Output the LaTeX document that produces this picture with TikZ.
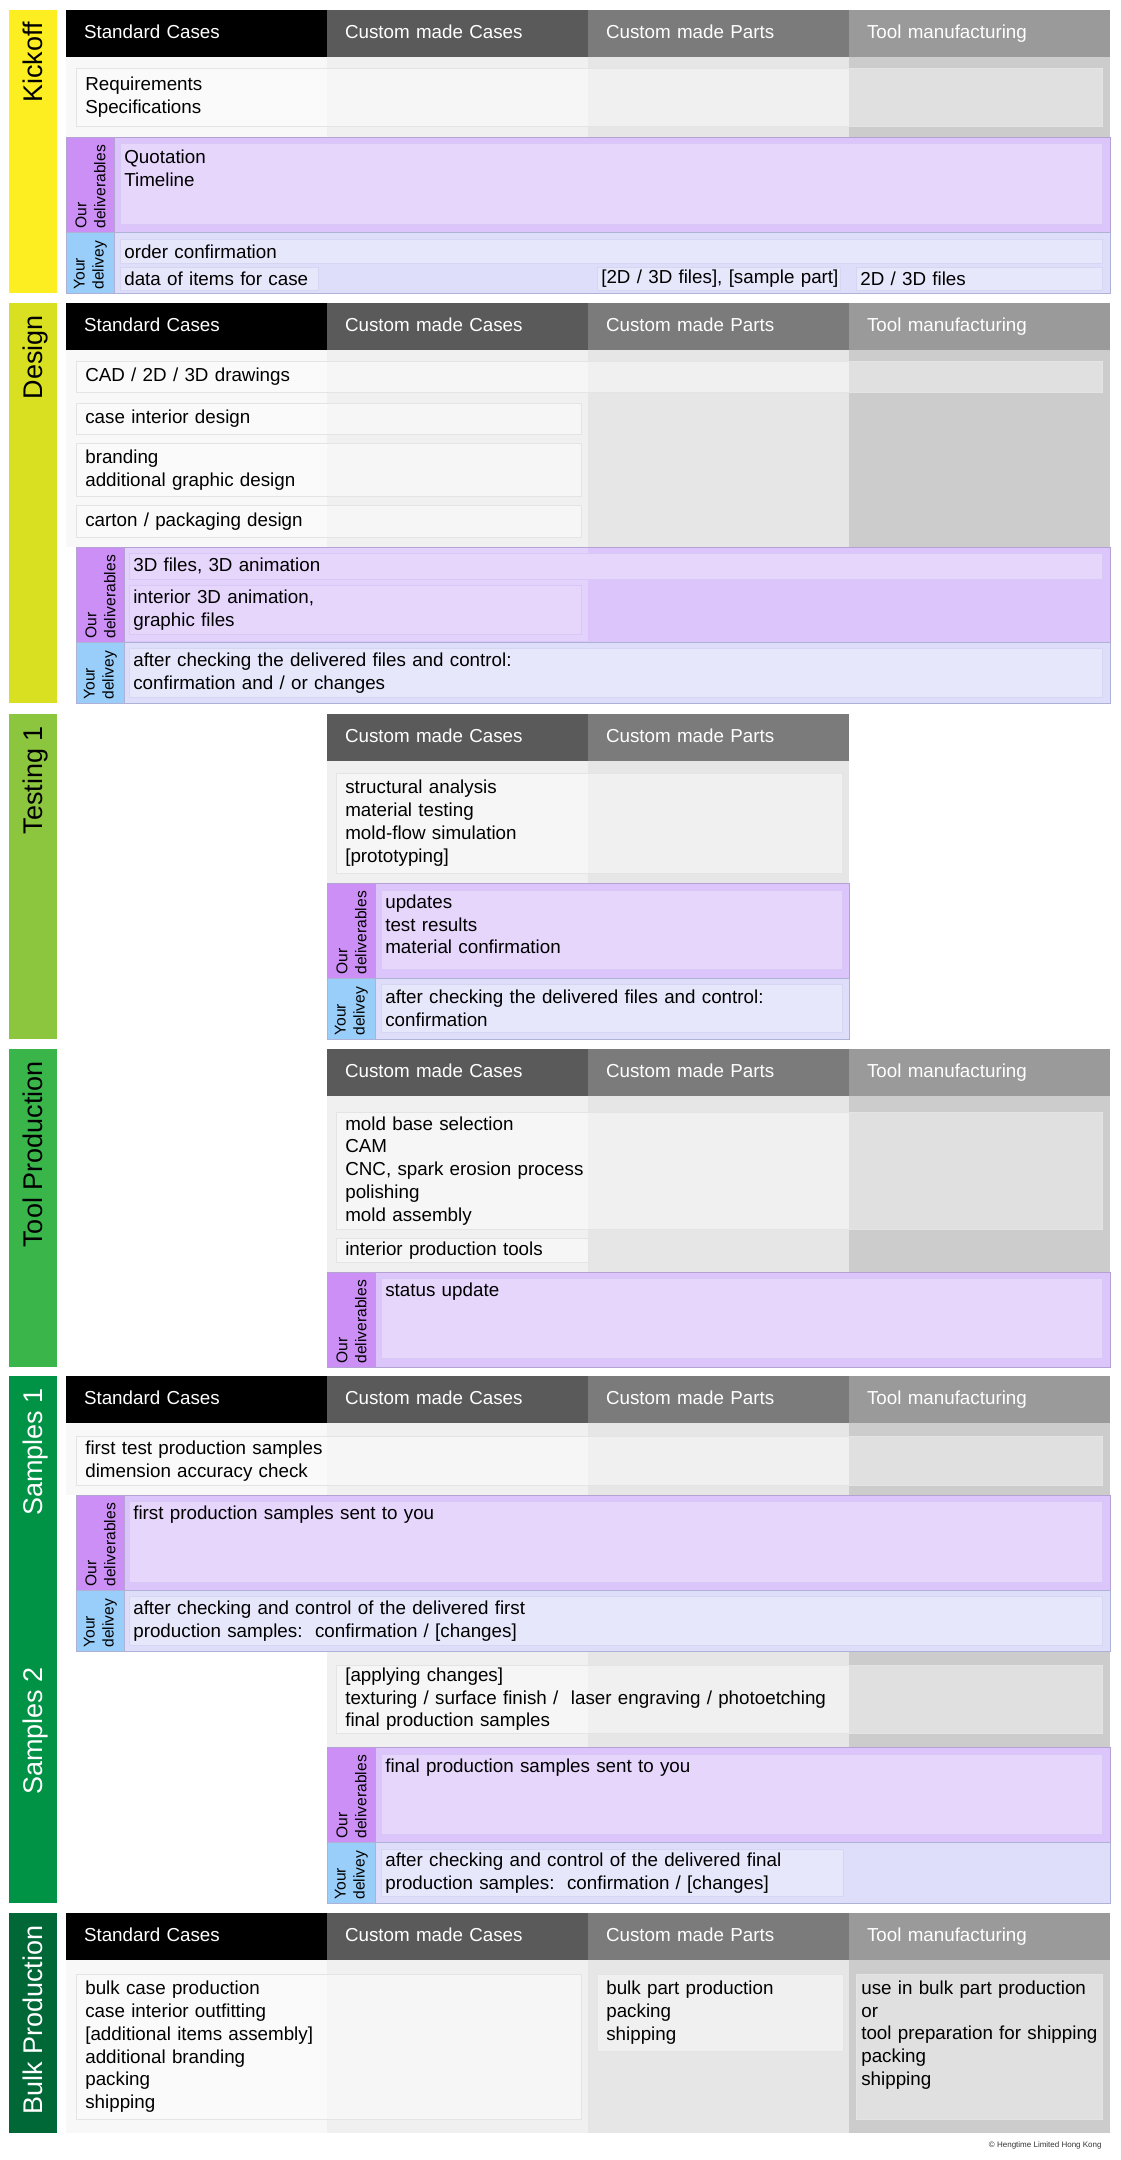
\documentclass[tikz,border=0pt]{standalone}
\usepackage{fontspec}
\setmainfont{Liberation Sans}
\frenchspacing
\definecolor{kick}{HTML}{FCEE21}
\definecolor{desi}{HTML}{D9E021}
\definecolor{test}{HTML}{8CC63F}
\definecolor{tool}{HTML}{39B54A}
\definecolor{samp}{HTML}{009245}
\definecolor{bulk}{HTML}{006837}
\definecolor{hd0}{HTML}{000000}
\definecolor{hd1}{HTML}{5A5A5A}
\definecolor{hd2}{HTML}{7B7B7B}
\definecolor{hd3}{HTML}{9A9A9A}
\definecolor{bg0}{HTML}{F8F8F8}
\definecolor{bg1}{HTML}{F0F0F0}
\definecolor{bg2}{HTML}{E6E6E6}
\definecolor{bg3}{HTML}{CCCCCC}
\definecolor{boxline}{HTML}{E4E4E4}
\definecolor{odcell}{HTML}{CC8FF5}
\definecolor{odfill}{HTML}{DCC5FA}
\definecolor{odlite}{HTML}{E3D2FB}
\definecolor{odbox}{HTML}{E6D6FC}
\definecolor{odline}{HTML}{B4A2D2}
\definecolor{odboxline}{HTML}{D8C8F5}
\definecolor{ydcell}{HTML}{99CEFA}
\definecolor{ydfill}{HTML}{DEDEFA}
\definecolor{ydbox}{HTML}{E7E7FC}
\definecolor{ydline}{HTML}{AEB2D6}
\definecolor{ydboxline}{HTML}{D6D6F2}
\newcommand\bodyfont{\fontsize{18.8}{22.8}\selectfont}
\newcommand\labfont{\fontsize{15.6}{19}\selectfont}
\newcommand\phasefont{\fontsize{27}{30}\selectfont}

\begin{document}
\begin{tikzpicture}[x=1pt, y=-1pt, font=\bodyfont, line width=0.8pt,
  bar/.style={anchor=north west, minimum width=48pt, inner sep=0pt, outer sep=0pt},
  phase/.style={rotate=90, anchor=east, inner sep=0pt, text height=19.5pt, text depth=0pt, font=\phasefont},
  hd/.style={anchor=north west, minimum height=47pt, text width=225pt, inner xsep=18pt, inner ysep=0pt,
    text height=14pt, text depth=4pt, align=left, text=white, outer sep=0pt},
  cell/.style 2 args={anchor=north west, text width=#1pt, minimum height=#2pt, inner xsep=9pt,
    inner ysep=0pt, align=left, draw=boxline, line width=0.6pt, fill=white, fill opacity=.4, text opacity=1},
  ourcell/.style 2 args={cell={#1}{#2}, inner xsep=4pt, fill=odbox, fill opacity=1, draw=odboxline},
  yourcell/.style 2 args={cell={#1}{#2}, inner xsep=4pt, fill=ydbox, fill opacity=1, draw=ydboxline},
  topped/.style 2 args={text height=#1pt, text depth=#2pt},
  odband/.style={anchor=north west, minimum height=95pt, inner sep=0pt, fill=odfill, draw=odline},
  ydband/.style={anchor=north west, minimum height=61pt, inner sep=0pt, fill=ydfill, draw=ydline},
  odlab/.style={rotate=90, anchor=north east, minimum width=95pt, minimum height=48pt, text width=87pt,
    inner sep=4pt, align=left, fill=odcell, draw=odline, font=\labfont},
  ydlab/.style={rotate=90, anchor=north east, minimum width=61pt, minimum height=48pt, text width=53pt,
    inner sep=4pt, align=left, fill=ydcell, draw=ydline, font=\labfont}]
\path[use as bounding box, fill=white] (0,0) rectangle (1121,2160);

% column heads and column shading
\foreach \s/\y/\b in {k/10/137, d/303/547, s/1376/1495, b/1913/2133}
  \foreach \i/\t in {0/Standard Cases, 1/Custom made Cases, 2/Custom made Parts, 3/Tool manufacturing} {
    \fill[bg\i] (66+261*\i,\y+47) rectangle ++(261,\b-\y-47);
    \node[hd, fill=hd\i] (\s-h\i) at (66+261*\i,\y) {\t};
  }
\foreach \i/\t in {1/Custom made Cases, 2/Custom made Parts} {
  \fill[bg\i] (66+261*\i,761) rectangle ++(261,122);
  \node[hd, fill=hd\i] (t-h\i) at (66+261*\i,714) {\t};
}
\foreach \i/\t in {1/Custom made Cases, 2/Custom made Parts, 3/Tool manufacturing} {
  \fill[bg\i] (66+261*\i,1096) rectangle ++(261,176);
  \node[hd, fill=hd\i] (p-h\i) at (66+261*\i,1049) {\t};
}
\foreach \i in {1,2,3} \fill[bg\i] (66+261*\i,1651) rectangle ++(261,96);

% Kickoff
\node[bar, fill=kick, minimum height=283pt] (k-bar) at (9,10) {};
\node[phase] (k-lab) at ([yshift=-12pt]k-bar.north) {Kickoff};
\node[cell={1008}{58}] (k-req) at (76,68) {Requirements\\Specifications};
\node[odband, minimum width=1044pt] (k-od) at (66,137) {};
\node[odlab] (k-odl) at (k-od.north west) {Our\\deliverables};
\node[ourcell={974}{81}, topped={20}{61}] (k-quote) at (120,143) {Quotation\\Timeline};
\node[ydband, minimum width=1044pt] (k-yd) at (66,232) {};
\node[ydlab] (k-ydl) at (k-yd.north west) {Your\\delivey};
\node[yourcell={974}{24}] (k-order) at (120,239) {order confirmation};
\node[yourcell={190}{23}] (k-data) at (120,267) {data of items for case};
\node[yourcell={235}{23}] (k-files) at (597,267) {\mbox{[2D / 3D files], [sample part]}};
\node[yourcell={238}{23}] (k-2d) at (856,267) {2D / 3D files};

% Design
\node[bar, fill=desi, minimum height=400pt] (d-bar) at (9,303) {};
\node[phase] (d-lab) at ([yshift=-12pt]d-bar.north) {Design};
\node[cell={1008}{31}] (d-cad) at (76,361) {CAD / 2D / 3D drawings};
\node[cell={487}{31}] (d-int) at (76,403) {case interior design};
\node[cell={487}{53}] (d-brand) at (76,443) {branding\\additional graphic design};
\node[cell={487}{32}] (d-carton) at (76,505) {carton / packaging design};
\node[odband, minimum width=1034pt] (d-od) at (76,547) {};
\fill[odlite] (124.5,548) rectangle (588,641);
\node[odlab] (d-odl) at (d-od.north west) {Our\\deliverables};
\node[ourcell={965}{26}] (d-anim) at (129,553) {3D files, 3D animation};
\node[ourcell={444}{49}] (d-ianim) at (129,585) {interior 3D animation,\\graphic files};
\node[ydband, minimum width=1034pt] (d-yd) at (76,642) {};
\node[ydlab] (d-ydl) at (d-yd.north west) {Your\\delivey};
\node[yourcell={965}{49}] (d-check) at (129,648) {after checking the delivered files and control:\\confirmation and / or changes};

% Testing 1
\node[bar, fill=test, minimum height=325pt] (t-bar) at (9,714) {};
\node[phase] (t-lab) at ([yshift=-12pt]t-bar.north) {Testing 1};
\node[cell={488}{100}] (t-analysis) at (336,773) {structural analysis\\material testing\\mold-flow simulation\\{}[prototyping]};
\node[odband, minimum width=522pt] (t-od) at (327,883) {};
\node[odlab] (t-odl) at (t-od.north west) {Our\\deliverables};
\node[ourcell={453}{79}, topped={18}{61}] (t-updates) at (381,890) {updates\\test results\\material confirmation};
\node[ydband, minimum width=522pt] (t-yd) at (327,978) {};
\node[ydlab] (t-ydl) at (t-yd.north west) {Your\\delivey};
\node[yourcell={453}{48}] (t-check) at (381,984) {after checking the delivered files and control:\\confirmation};

% Tool Production
\node[bar, fill=tool, minimum height=318pt] (p-bar) at (9,1049) {};
\node[phase] (p-lab) at ([yshift=-12pt]p-bar.north) {Tool Production};
\node[cell={748}{117}] (p-mold) at (336,1112) {mold base selection\\CAM\\CNC, spark erosion process\\polishing\\mold assembly};
\node[cell={234}{24}] (p-int) at (336,1238) {interior production tools};
\node[odband, minimum width=783pt] (p-od) at (327,1272) {};
\node[odlab] (p-odl) at (p-od.north west) {Our\\deliverables};
\node[ourcell={713}{80}, topped={18}{62}] (p-status) at (381,1278) {status update};

% Samples 1 and 2
\node[bar, fill=samp, minimum height=527pt] (s-bar) at (9,1376) {};
\node[phase, text=white] (s-lab1) at ([yshift=-12pt]s-bar.north) {Samples 1};
\node[phase, text=white] (s-lab2) at ([yshift=-291pt]s-bar.north) {Samples 2};
\node[cell={1008}{49}] (s-first) at (76,1436) {first test production samples\\dimension accuracy check};
\node[odband, minimum width=1034pt] (s-od1) at (76,1495) {};
\node[odlab] (s-odl1) at (s-od1.north west) {Our\\deliverables};
\node[ourcell={965}{81}, topped={18}{63}] (s-sent1) at (129,1501) {first production samples sent to you};
\node[ydband, minimum width=1034pt] (s-yd1) at (76,1590) {};
\node[ydlab] (s-ydl1) at (s-yd1.north west) {Your\\delivey};
\node[yourcell={965}{49}] (s-check1) at (129,1596) {after checking and control of the delivered first\\production samples: \ confirmation / [changes]};
\node[cell={748}{68}] (s-apply) at (336,1665) {[applying changes]\\texturing / surface finish / \ laser engraving / photoetching\\final production samples};
\node[odband, minimum width=783pt] (s-od2) at (327,1747) {};
\node[odlab] (s-odl2) at (s-od2.north west) {Our\\deliverables};
\node[ourcell={713}{80}, topped={18}{62}] (s-sent2) at (381,1754) {final production samples sent to you};
\node[ydband, minimum width=783pt] (s-yd2) at (327,1842) {};
\node[ydlab] (s-ydl2) at (s-yd2.north west) {Your\\delivey};
\node[yourcell={454}{47}] (s-check2) at (381,1849) {after checking and control of the delivered final\\production samples: \ confirmation / [changes]};

% Bulk Production
\node[bar, fill=bulk, minimum height=220pt] (b-bar) at (9,1913) {};
\node[phase, text=white] (b-lab) at ([yshift=-12pt]b-bar.north) {Bulk Production};
\node[cell={487}{145}] (b-case) at (76,1974) {bulk case production\\case interior outfitting\\{}[additional items assembly]\\additional branding\\packing\\shipping};
\node[cell={228}{77}] (b-part) at (597,1974) {bulk part production\\packing\\shipping};
\node[cell={236}{145}, inner xsep=5pt, topped={20}{125}] (b-tool) at (856,1974) {use in bulk part production\\or\\\mbox{tool preparation for shipping}\\packing\\shipping};
\node[anchor=base east, inner sep=0pt, text=black!80, font=\fontsize{8}{9}\selectfont] (credit) at (1102,2147) {© Hengtime Limited Hong Kong};
\end{tikzpicture}
\end{document}
